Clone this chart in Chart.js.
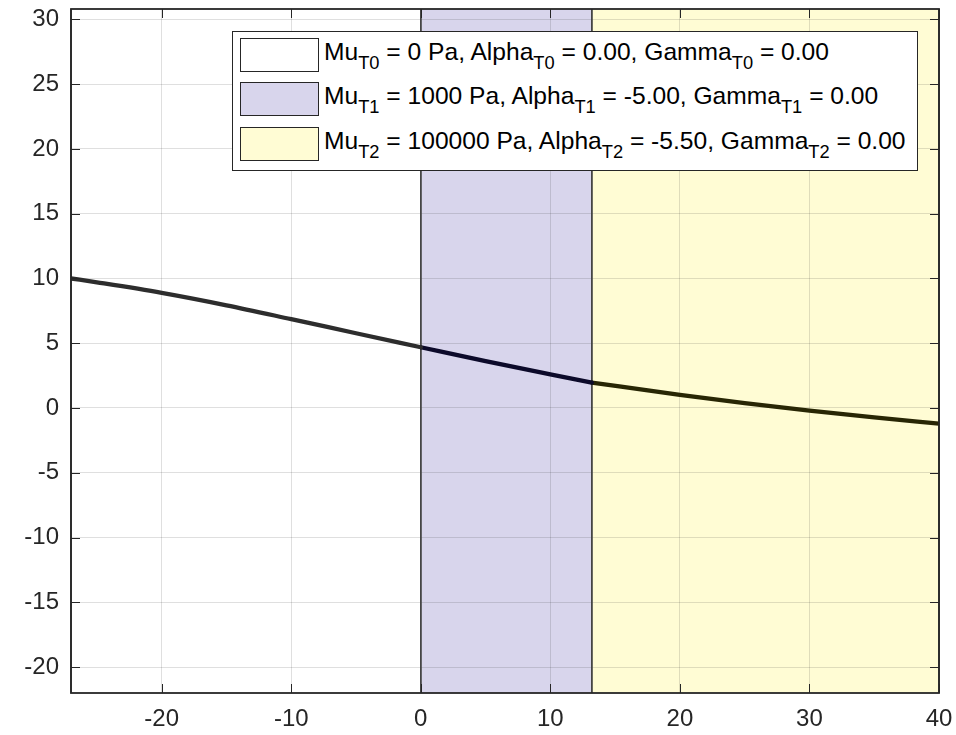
<!DOCTYPE html>
<html>
<head>
<meta charset="utf-8">
<script src="https://cdn.jsdelivr.net/npm/chart.js@4"></script>
<style>
  html, body { margin: 0; padding: 0; background: #fff; }
  #wrap { position: relative; width: 956px; height: 735px; }
  #legend {
    position: absolute; left: 232px; top: 31px; width: 684px; height: 138px;
    background: #fff; border: 1px solid #262626;
    font-family: "Liberation Sans", Arial, Helvetica, sans-serif; color: #000;
  }
  .row { position: absolute; left: 7px; height: 34px; display: flex; align-items: center; }
  .sw { width: 77px; height: 32px; border: 1px solid #262626; box-sizing: content-box; }
  .lbl { margin-left: 5px; font-size: 24.6px; white-space: nowrap; line-height: 34px; position: relative; top: -3px; }
  .lbl sub { font-size: 18.3px; vertical-align: -0.5em; line-height: 0; }
</style>
</head>
<body>
<div id="wrap">
  <canvas id="c" width="956" height="735"></canvas>
  <div id="legend"></div>
</div>
<script>
// Temperature zones: start/end along x and fill colour
const zoneStart = [-27, 0, 13.2];
const zoneEnd = [0, 13.2, 40];
const zoneFill = ['rgb(255,255,255)', 'rgb(216,213,236)', 'rgb(255,252,212)'];
const zoneLine = ['rgb(45,45,45)', 'rgb(12,10,42)', 'rgb(40,38,4)'];

// Legend parameters per zone
const zoneNames = ['T0', 'T1', 'T2'];
const muPa = ['0', '1000', '100000'];
const alphaVals = ['0.00', '-5.00', '-5.50'];
const gammaVals = ['0.00', '0.00', '0.00'];

// Curve samples, one series per zone
const seg0X = [-27, -25, -20, -15, -10, -5, 0];
const seg0Y = [10.0, 9.70, 8.89, 7.93, 6.86, 5.77, 4.69];
const seg1X = [0, 5, 10, 13.2];
const seg1Y = [4.69, 3.62, 2.60, 1.96];
const seg2X = [13.2, 20, 25, 30, 35, 40];
const seg2Y = [1.96, 1.02, 0.38, -0.20, -0.73, -1.20];

// Axis limits and tick labels
const xMin = -27, xMax = 40;
const yMin = -22, yMax = 30.8;
const xTicks = [-20, -10, 0, 10, 20, 30, 40];
const yTicks = [-20, -15, -10, -5, 0, 5, 10, 15, 20, 25, 30];

const segX = [seg0X, seg1X, seg2X];
const segY = [seg0Y, seg1Y, seg2Y];

const datasets = segX.map((xs, i) => ({
  data: xs.map((x, k) => ({ x: x, y: segY[i][k] })),
  borderColor: zoneLine[i],
  borderWidth: 4.3,
  pointRadius: 0,
  fill: false,
  cubicInterpolationMode: 'monotone',
  borderCapStyle: 'round'
}));

const AX = '#262626';
const FONT = '"Liberation Sans", Arial, Helvetica, sans-serif';

const zonePlugin = {
  id: 'zones',
  beforeDraw(chart) {
    const { ctx, chartArea: a, scales: { x } } = chart;
    ctx.save();
    ctx.fillStyle = '#fff';
    ctx.fillRect(0, 0, chart.width, chart.height);
    ctx.beginPath(); ctx.rect(a.left, a.top, a.right - a.left, a.bottom - a.top); ctx.clip();
    zoneStart.forEach((s, i) => {
      const x0 = x.getPixelForValue(s), x1 = x.getPixelForValue(zoneEnd[i]);
      ctx.fillStyle = zoneFill[i];
      ctx.fillRect(x0, a.top, x1 - x0, a.bottom - a.top);
    });
    ctx.restore();
  },
  beforeDatasetsDraw(chart) {
    const { ctx, chartArea: a, scales: { x } } = chart;
    ctx.save();
    ctx.strokeStyle = 'rgb(70,70,70)';
    ctx.lineWidth = 1.5;
    zoneStart.forEach((s, i) => {
      [s, zoneEnd[i]].forEach(v => {
        const px = x.getPixelForValue(v);
        ctx.beginPath(); ctx.moveTo(px, a.top); ctx.lineTo(px, a.bottom); ctx.stroke();
      });
    });
    ctx.restore();
  },
  afterDraw(chart) {
    const { ctx, chartArea: a, scales: { x, y } } = chart;
    const tl = 9;
    ctx.save();
    ctx.strokeStyle = AX;
    ctx.lineWidth = 1.8;
    ctx.strokeRect(a.left, a.top, a.right - a.left, a.bottom - a.top);
    ctx.lineWidth = 1;
    ctx.beginPath();
    xTicks.forEach(v => {
      const px = Math.round(x.getPixelForValue(v)) + 0.5;
      ctx.moveTo(px, a.bottom); ctx.lineTo(px, a.bottom - tl);
      ctx.moveTo(px, a.top); ctx.lineTo(px, a.top + tl);
    });
    yTicks.forEach(v => {
      const py = Math.round(y.getPixelForValue(v)) + 0.5;
      ctx.moveTo(a.left, py); ctx.lineTo(a.left + tl, py);
      ctx.moveTo(a.right, py); ctx.lineTo(a.right - tl, py);
    });
    ctx.stroke();
    ctx.restore();
  }
};

new Chart(document.getElementById('c'), {
  type: 'line',
  data: { datasets: datasets },
  options: {
    responsive: false,
    animation: false,
    events: [],
    layout: { padding: { top: 9, right: 17, left: 0, bottom: 0 } },
    plugins: { legend: { display: false }, tooltip: { enabled: false } },
    scales: {
      x: {
        type: 'linear', min: xMin, max: xMax,
        afterBuildTicks: s => { s.ticks = xTicks.map(v => ({ value: v })); },
        afterFit: s => { s.height = 42; s.paddingLeft = 0; s.paddingRight = 0; },
        grid: { color: 'rgba(38,38,38,0.15)', lineWidth: 1, drawTicks: false },
        border: { display: false },
        ticks: { color: AX, font: { family: FONT, size: 24 }, padding: 12, maxRotation: 0 }
      },
      y: {
        type: 'linear', min: yMin, max: yMax,
        afterBuildTicks: s => { s.ticks = yTicks.map(v => ({ value: v })); },
        afterFit: s => { s.width = 71; s.paddingTop = 0; s.paddingBottom = 0; },
        grid: { color: 'rgba(38,38,38,0.15)', lineWidth: 1, drawTicks: false },
        border: { display: false },
        ticks: { color: AX, font: { family: FONT, size: 24 }, padding: 12 }
      }
    }
  },
  plugins: [zonePlugin]
});

// Legend entries with subscripted zone names
const legend = document.getElementById('legend');
const rowTops = [6, 50, 95];
zoneNames.forEach((n, i) => {
  const row = document.createElement('div');
  row.className = 'row';
  row.style.top = rowTops[i] + 'px';
  const sw = document.createElement('div');
  sw.className = 'sw';
  sw.style.background = zoneFill[i];
  const lbl = document.createElement('div');
  lbl.className = 'lbl';
  lbl.innerHTML = 'Mu<sub>' + n + '</sub> = ' + muPa[i] + ' Pa, Alpha<sub>' + n + '</sub> = ' +
    alphaVals[i] + ', Gamma<sub>' + n + '</sub> = ' + gammaVals[i];
  row.appendChild(sw);
  row.appendChild(lbl);
  legend.appendChild(row);
});
</script>
</body>
</html>
